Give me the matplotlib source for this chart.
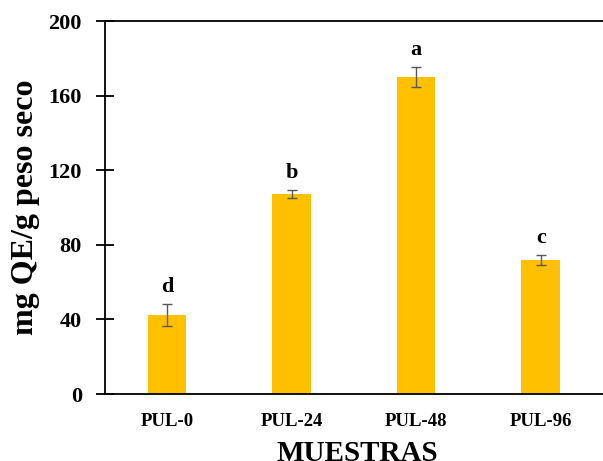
import numpy as np
import matplotlib.pyplot as plt

muestras = ['PUL-0', 'PUL-24', 'PUL-48', 'PUL-96']
valores = [42.4, 107.2, 169.8, 71.8]
errores = [5.8, 2.0, 5.4, 2.5]
letras = ['d', 'b', 'a', 'c']

plt.rcParams['font.family'] = ['Liberation Serif', 'DejaVu Serif']
plt.rcParams['font.weight'] = 'bold'

fig = plt.figure(figsize=(6.03, 4.61), dpi=100)
ax = fig.add_axes([0.1736, 0.1453, 0.8264, 0.8091])

x = np.arange(len(muestras))
ax.bar(x, valores, width=0.31, color='#FFC000', zorder=2)
ax.errorbar(x, valores, yerr=errores, fmt='none', ecolor='#595959',
            elinewidth=1.0, capsize=3.3, capthick=1.0, zorder=3)

for xi, v, e, l in zip(x, valores, errores, letras):
    ax.text(xi, v + e + 4, l, ha='center', va='bottom',
            fontsize=16, fontweight='bold')

ax.set_xlim(-0.5, 3.5)
ax.set_ylim(0, 200)
ax.set_yticks(np.arange(0, 201, 40))
ax.set_xticks(x)
ax.set_xticklabels(muestras, fontsize=13.5, fontweight='bold')
ax.tick_params(axis='x', length=0, pad=14)
ax.tick_params(axis='y', direction='inout', length=13, width=1.3,
               labelsize=16, pad=10)
for lab in ax.get_yticklabels():
    lab.set_fontweight('bold')

ax.spines['right'].set_visible(False)
for s in ['left', 'bottom', 'top']:
    ax.spines[s].set_linewidth(1.3)

ax.set_ylabel('mg QE/g peso seco', fontsize=23, fontweight='bold', labelpad=6)
fig.text(0.592, -0.012, 'MUESTRAS', ha='center', va='bottom',
         fontsize=21, fontweight='bold')

fig.savefig('out.png', dpi=100)
